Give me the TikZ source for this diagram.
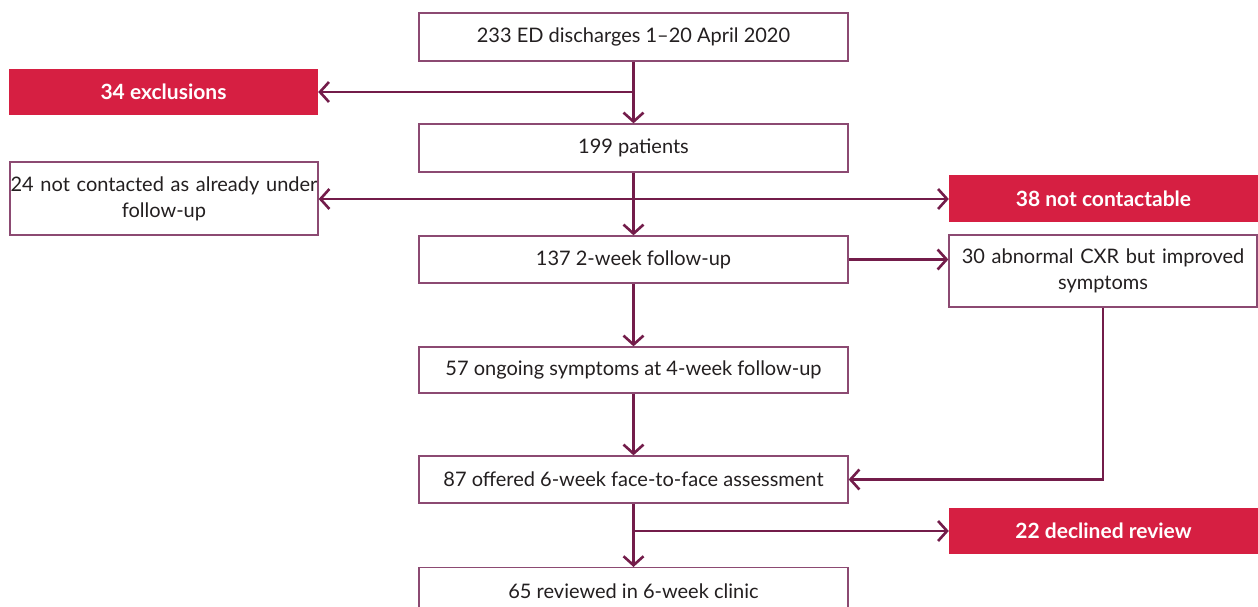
\documentclass[tikz,border=0pt]{standalone}
\usepackage{fontspec}
\setmainfont{Lato}
\usetikzlibrary{arrows.meta}
\definecolor{linec}{HTML}{731C4A}
\definecolor{boxc}{HTML}{8C4A72}
\definecolor{redc}{HTML}{D61F42}
\definecolor{txt}{HTML}{231F20}
\tikzset{
  wbox/.style={draw=boxc, line width=1.3pt, fill=white, text=txt, inner sep=0pt, align=center, font=\fontsize{20}{26}\selectfont},
  rbox/.style={draw=none, fill=redc, text=white, inner sep=0pt, align=center, font=\fontsize{21}{26}\selectfont\bfseries},
  conn/.style={draw=linec, line width=2.6pt},
  arr/.style={conn, -{Straight Barb[length=9pt, width=20pt, line width=2.6pt]}},
}
\begin{document}
\begin{tikzpicture}[x=1pt,y=-1pt]
\useasboundingbox (0,0) rectangle (1258,607);
% nodes (centres, sizes in px)
\node[wbox, minimum width=429pt, minimum height=48pt] (a) at (633.5,37) {233 ED discharges 1–20 April 2020};
\node[rbox, minimum width=309pt, minimum height=46pt] (ex) at (163.5,92) {34 exclusions};
\node[wbox, minimum width=429pt, minimum height=48pt] (b) at (633.5,148) {199 patients};
\node[wbox, minimum width=308pt, minimum height=73pt, text width=306pt] (c) at (164,198.5) {\makebox[306pt][c]{24 not contacted as already under}\\follow-up};
\node[rbox, minimum width=309pt, minimum height=47pt] (d) at (1103.5,198.5) {38 not contactable};
\node[wbox, minimum width=429pt, minimum height=47pt] (e) at (633.5,259.5) {137 2-week follow-up};
\node[wbox, minimum width=308pt, minimum height=72pt, text width=300pt] (f) at (1103,271) {30 abnormal CXR but improved\\symptoms};
\node[wbox, minimum width=429pt, minimum height=46pt] (g) at (633.5,370) {57 ongoing symptoms at 4-week follow-up};
\node[wbox, minimum width=429pt, minimum height=47pt] (h) at (633.5,479.5) {87 offered 6-week face-to-face assessment};
\node[rbox, minimum width=309pt, minimum height=46pt] (i) at (1103.5,531) {22 declined review};
\node[wbox, minimum width=429pt, minimum height=46pt, anchor=north] (j) at (633.5,567) {};
\node[text=txt, inner sep=0pt, font=\fontsize{20}{26}\selectfont] (jt) at (633.5,591) {65 reviewed in 6-week clinic};
% junction coordinates
\coordinate (j1) at (633.5,92);
\coordinate (j2) at (633.5,199);
\coordinate (j3) at (633.5,531);
\coordinate (fb) at (f.south);
\coordinate (fc) at (fb |- h.east);
% connectors
\draw[arr] (a.south) -- (b.north);
\draw[arr] (j1) -- (ex.east);
\draw[arr] (b.south) -- (e.north);
\draw[arr] (j2) -- (c.east |- j2);
\draw[arr] (j2) -- (d.west |- j2);
\draw[arr] (e.east) -- (f.west |- e.east);
\draw[arr] (e.south) -- (g.north);
\draw[arr] (g.south) -- (h.north);
\draw[arr] (fb) -- (fc) -- (h.east);
\draw[arr] (h.south) -- (j.north);
\draw[arr] (j3) -- (i.west);
\end{tikzpicture}
\end{document}
